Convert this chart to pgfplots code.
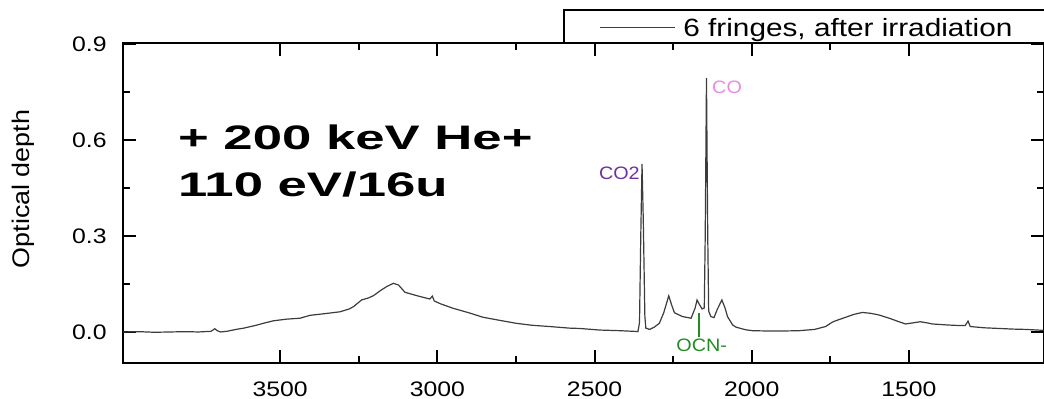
\documentclass[border=0pt]{standalone}
\usepackage{pgfplots}
\pgfplotsset{compat=1.18}
\usepackage{fontspec}
\setmainfont{Liberation Sans}
\newfontfamily\tickfont[FakeStretch=1.18]{Liberation Sans}
\newfontfamily\legfont[FakeStretch=1.19]{Liberation Sans}
\newfontfamily\bigfont[FakeStretch=1.55]{Liberation Sans}
\newfontfamily\labfont[FakeStretch=1.1]{Liberation Sans}
\newfontfamily\ylabfont[FakeStretch=1.12]{Liberation Sans}
\definecolor{specgray}{RGB}{60,60,60}
\definecolor{copurple}{RGB}{112,48,160}
\definecolor{copink}{RGB}{228,140,228}
\definecolor{ocngreen}{RGB}{34,139,34}
\begin{document}
\begin{tikzpicture}
\begin{axis}[
  at={(0,0)}, anchor=south west,
  scale only axis, width=460.25pt, height=160pt,
  x dir=reverse, xmin=1072, xmax=4000, ymin=-0.097, ymax=0.903,
  xtick={1500,2000,2500,3000,3500}, ytick={0,0.3,0.6,0.9},
  minor x tick num=1, minor y tick num=1,
  tick align=inside,
  major tick length=6.5pt, minor tick length=3.5pt,
  axis line style={line width=1pt},
  every tick/.style={line width=1pt, black},
  /pgf/number format/assume math mode=true,
  /pgf/number format/1000 sep={},
  yticklabel style={/pgf/number format/fixed, /pgf/number format/precision=1, /pgf/number format/fixed zerofill, inner sep=0pt, xshift=-8pt, font=\tickfont\fontsize{10.5}{12}\selectfont},
  xticklabel style={inner sep=0pt, yshift=-9pt, font=\tickfont\fontsize{10.5}{12}\selectfont},
  ylabel={Optical depth},
  ylabel style={at={(rel axis cs:-0.1086,0.544)}, anchor=center, font=\ylabfont\fontsize{12}{14}\selectfont},
  clip=false,
]
\addplot[color=specgray, line width=0.6pt] table {
4000 0.000
3950 0.001
3900 -0.001
3850 0.000
3800 0.001
3760 0.000
3720 0.002
3708 0.010
3700 0.004
3690 0.000
3670 0.002
3640 0.008
3616 0.012
3580 0.020
3550 0.028
3521 0.035
3480 0.040
3437 0.043
3405 0.052
3360 0.057
3310 0.063
3280 0.072
3267 0.079
3241 0.100
3220 0.106
3204 0.113
3180 0.130
3161 0.142
3140 0.152
3124 0.147
3103 0.124
3060 0.112
3024 0.103
3016 0.112
3010 0.097
2990 0.088
2950 0.074
2900 0.060
2855 0.046
2800 0.036
2749 0.027
2700 0.021
2643 0.017
2580 0.012
2548 0.011
2484 0.006
2420 0.004
2375 0.002
2362 0.001
2357 0.030
2353 0.300
2349 0.525
2345 0.350
2340 0.050
2337 0.012
2325 0.008
2310 0.015
2294 0.027
2280 0.060
2264 0.113
2255 0.085
2246 0.060
2220 0.048
2193 0.043
2180 0.075
2174 0.100
2166 0.085
2158 0.072
2151 0.075
2148 0.300
2144 0.793
2140 0.300
2137 0.065
2130 0.048
2120 0.045
2110 0.070
2095 0.100
2085 0.075
2077 0.048
2061 0.022
2050 0.015
2020 0.007
1998 0.004
1950 0.003
1900 0.003
1849 0.004
1800 0.008
1765 0.017
1745 0.030
1733 0.035
1701 0.046
1675 0.055
1648 0.061
1620 0.058
1595 0.053
1560 0.042
1532 0.032
1511 0.025
1490 0.028
1464 0.032
1440 0.028
1426 0.025
1380 0.022
1340 0.020
1321 0.020
1312 0.034
1305 0.017
1260 0.013
1214 0.011
1170 0.009
1130 0.008
1090 0.006
1072 0.005
};
% legend box (drawn to match the reference legend, which runs past the right edge)
\draw[line width=0.8pt] (rel axis cs:0.4791,1) rectangle ([yshift=16.5pt]rel axis cs:1.06,1);
\draw[color=specgray, line width=0.6pt] ([yshift=7.85pt]rel axis cs:0.5182,1) -- ([yshift=7.85pt]rel axis cs:0.5997,1);
\node[anchor=base west, inner sep=0pt, font=\legfont\fontsize{12.5}{14}\selectfont] at ([yshift=3pt]rel axis cs:0.6084,1) {6 fringes, after irradiation};
\node[anchor=base west, inner sep=0pt, font=\bigfont\bfseries\fontsize{17}{20}\selectfont] at (axis cs:3826,0.569) {+ 200 keV He+};
\node[anchor=base west, inner sep=0pt, font=\bigfont\bfseries\fontsize{17}{20}\selectfont] at (axis cs:3826,0.422) {110 eV/16u};
\node[anchor=east, inner sep=0pt, text=copurple, font=\labfont\fontsize{9}{10}\selectfont] at (axis cs:2355,0.496) {CO2};
\node[anchor=west, inner sep=0pt, text=copink, font=\labfont\fontsize{9}{10}\selectfont] at (axis cs:2127,0.766) {CO};
\node[anchor=center, inner sep=0pt, text=ocngreen, font=\labfont\fontsize{9}{10}\selectfont] at (axis cs:2159,-0.041) {OCN-};
\draw[ocngreen, line width=0.8pt] (axis cs:2168,0.059) -- (axis cs:2168,-0.016);
\end{axis}
\pgfresetboundingbox
\path[use as bounding box] (-61.5pt,-17.5pt) rectangle (460.5pt,181.5pt);
\end{tikzpicture}
\end{document}
